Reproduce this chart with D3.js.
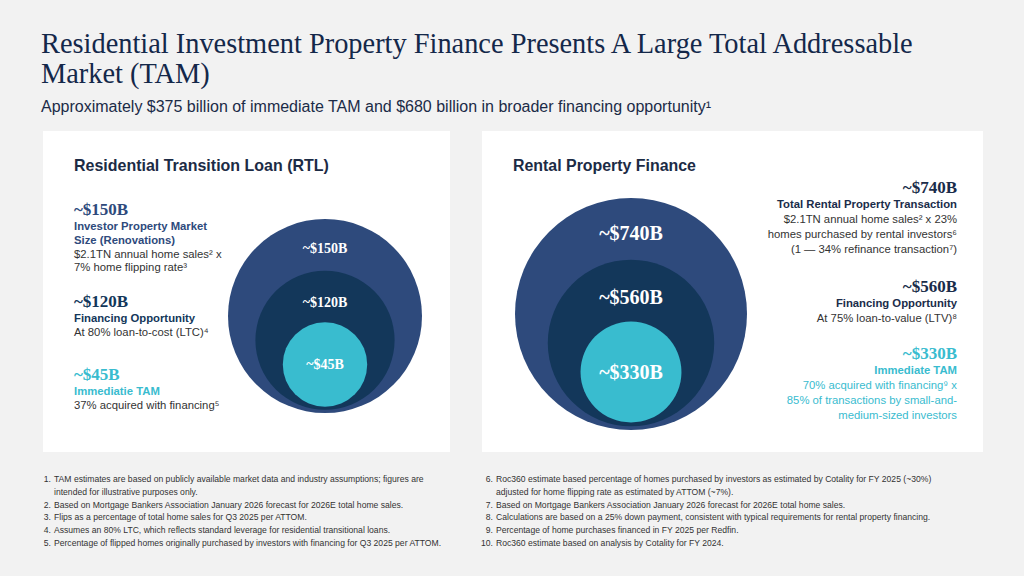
<!DOCTYPE html>
<html>
<head>
<meta charset="utf-8">
<script src="https://cdn.jsdelivr.net/npm/d3@7"></script>
<style>
  html, body { margin: 0; padding: 0; background: #f2f2f2; }
  svg { display: block; }
</style>
</head>
<body>
<div id="chart"></div>
<script>
// values
const rtlValues = [150, 120, 45];
const rtlLabels = ["~$150B", "~$120B", "~$45B"];
const rtlHeads = [["Investor Property Market", "Size (Renovations)"], ["Financing Opportunity"], ["Immediatie TAM"]];
const rtlNotes = [["$2.1TN annual home sales² x", "7% home flipping rate³"], ["At 80% loan-to-cost (LTC)⁴"], ["37% acquired with financing⁵"]];

const rpfValues = [740, 560, 330];
const rpfLabels = ["~$740B", "~$560B", "~$330B"];
const rpfHeads = [["Total Rental Property Transaction"], ["Financing Opportunity"], ["Immediate TAM"]];
const rpfNotes = [
  ["$2.1TN annual home sales² x 23%", "homes purchased by rental investors⁶", "(1 — 34% refinance transaction⁷)"],
  ["At 75% loan-to-value (LTV)⁸"],
  ["70% acquired with financing⁹ x", "85% of transactions by small-and-", "medium-sized investors"]
];

const footLeft = [
  ["1.", "TAM estimates are based on publicly available market data and industry assumptions; figures are"],
  ["", "intended for illustrative purposes only."],
  ["2.", "Based on Mortgage Bankers Association January 2026 forecast for 2026E total home sales."],
  ["3.", "Flips as a percentage of total home sales for Q3 2025 per ATTOM."],
  ["4.", "Assumes an 80% LTC, which reflects standard leverage for residential transitional loans."],
  ["5.", "Percentage of flipped homes originally purchased by investors with financing for Q3 2025 per ATTOM."]
];
const footRight = [
  ["6.", "Roc360 estimate based percentage of homes purchased by investors as estimated by Cotality for FY 2025 (~30%)"],
  ["", "adjusted for home flipping rate as estimated by ATTOM (~7%)."],
  ["7.", "Based on Mortgage Bankers Association January 2026 forecast for 2026E total home sales."],
  ["8.", "Calculations are based on a 25% down payment, consistent with typical requirements for rental property financing."],
  ["9.", "Percentage of home purchases financed in FY 2025 per Redfin."],
  ["10.", "Roc360 estimate based on analysis by Cotality for FY 2024."]
];

const tierColors = ["#2e4a7c", "#13375a", "#39bccf"];
const serif = "'Liberation Serif', 'DejaVu Serif', serif";
const sans = "'Liberation Sans', Arial, sans-serif";

const width = 1024, height = 576;

const svg = d3.select("#chart").append("svg")
  .attr("width", width)
  .attr("height", height);

svg.append("rect").attr("width", width).attr("height", height).attr("fill", "#f2f2f2");

// shrink/grow font so the text spans a given width
function fit(sel, target) {
  const w = sel.node().getComputedTextLength();
  const fs = parseFloat(sel.attr("font-size"));
  sel.attr("font-size", (fs * target / w).toFixed(2));
}

// title + subtitle
const title = svg.append("g").attr("fill", "#14284a").attr("font-family", serif);
fit(title.append("text").attr("x", 41).attr("y", 53).attr("font-size", 28)
  .text("Residential Investment Property Finance Presents A Large Total Addressable"), 872);
title.append("text").attr("x", 41).attr("y", 83).attr("font-size", title.select("text").attr("font-size"))
  .text("Market (TAM)");
fit(svg.append("text").attr("x", 41).attr("y", 112).attr("font-size", 15)
  .attr("font-family", sans).attr("fill", "#1b2b47")
  .text("Approximately $375 billion of immediate TAM and $680 billion in broader financing opportunity¹"), 670);

// panels
svg.append("rect").attr("x", 43).attr("y", 131).attr("width", 407).attr("height", 321).attr("fill", "#fff");
svg.append("rect").attr("x", 482).attr("y", 131).attr("width", 501).attr("height", 321).attr("fill", "#fff");

fit(svg.append("text").attr("x", 74).attr("y", 171).attr("font-size", 16)
  .attr("font-family", sans).attr("font-weight", "bold").attr("fill", "#1c2b45")
  .text("Residential Transition Loan (RTL)"), 255);
fit(svg.append("text").attr("x", 513).attr("y", 171).attr("font-size", 16)
  .attr("font-family", sans).attr("font-weight", "bold").attr("fill", "#1c2b45")
  .text("Rental Property Finance"), 183);

// nested circles, radius stepped by tier rank, all resting near the same bottom
function drawRings(values, labels, cx, bottom, R, fs) {
  const r = d3.scaleLinear().domain([0, values.length - 1]).range([R, 0.435 * R]);
  const gap = d3.scaleLinear().domain([0, values.length - 1]).range([0, 0.065 * R]);
  const data = values.map((v, i) => ({ v, i, label: labels[i], r: r(i), cy: bottom - gap(i) - r(i) }));
  const g = svg.append("g");
  g.selectAll("circle").data(data).join("circle")
    .attr("cx", cx).attr("cy", d => d.cy).attr("r", d => d.r)
    .attr("fill", d => tierColors[d.i]);
  g.selectAll("text").data(data).join("text")
    .attr("x", cx)
    .attr("y", d => {
      const next = data[d.i + 1];
      const top = d.cy - d.r;
      const mid = next ? top + (0.57 + 0.04 * d.i) * ((next.cy - next.r) - top) : d.cy;
      return mid + 0.33 * fs;
    })
    .attr("text-anchor", "middle")
    .attr("font-family", serif).attr("font-weight", "bold")
    .attr("font-size", fs).attr("fill", "#fff")
    .text(d => d.label);
}

drawRings(rtlValues, rtlLabels, 325, 413, 97, 14);
drawRings(rpfValues, rpfLabels, 631, 430, 116, 20);

// text blocks beside the circles
function drawBlock(x, anchor, y0, label, heads, notes, color, noteColor, lh) {
  const g = svg.append("g").attr("text-anchor", anchor);
  g.append("text").attr("x", x).attr("y", y0)
    .attr("font-family", serif).attr("font-weight", "bold").attr("font-size", 17)
    .attr("fill", color).text(label);
  let y = y0 + 15;
  heads.forEach(h => {
    g.append("text").attr("x", x).attr("y", y)
      .attr("font-family", sans).attr("font-weight", "bold").attr("font-size", 11.3)
      .attr("fill", color).text(h);
    y += lh;
  });
  notes.forEach(n => {
    g.append("text").attr("x", x).attr("y", y)
      .attr("font-family", sans).attr("font-size", 11.3)
      .attr("fill", noteColor).text(n);
    y += lh;
  });
}

const rtlY = [215, 307, 380];
rtlLabels.forEach((l, i) => drawBlock(74, "start", rtlY[i], l, rtlHeads[i], rtlNotes[i],
  tierColors[i], "#333", 13.8));

const rpfY = [193, 292, 359];
const rpfColors = ["#1a2c4a", "#1a2c4a", "#39bccf"];
rpfLabels.forEach((l, i) => drawBlock(957, "end", rpfY[i], l, rpfHeads[i], rpfNotes[i],
  rpfColors[i], i === 2 ? "#39bccf" : "#333", 15));

// footnotes
function drawFeet(rows, xNum, xText) {
  const g = svg.append("g").attr("font-family", sans).attr("font-size", 8.6).attr("fill", "#333");
  rows.forEach((row, i) => {
    const y = 482 + i * 12.8;
    g.append("text").attr("x", xNum).attr("y", y).attr("text-anchor", "end").text(row[0]);
    g.append("text").attr("x", xText).attr("y", y).text(row[1]);
  });
}
drawFeet(footLeft, 51, 54);
drawFeet(footRight, 493, 496);
</script>
</body>
</html>
